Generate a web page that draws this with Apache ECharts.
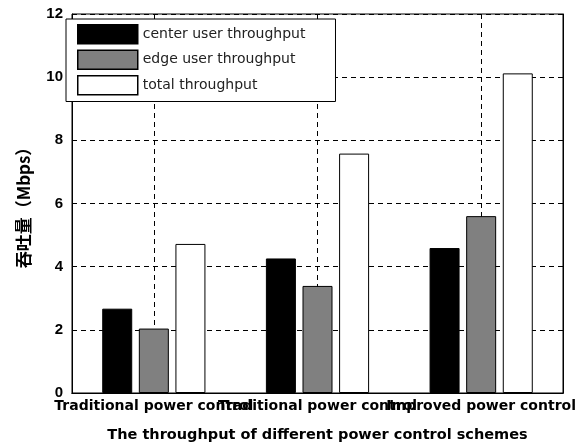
<!DOCTYPE html>
<html>
<head>
<meta charset="utf-8">
<script src="https://cdn.jsdelivr.net/npm/echarts@6/dist/echarts.min.js"></script>
<style>
  html, body { margin: 0; padding: 0; background: #fff; }
  #main { width: 584px; height: 448px; }
</style>
</head>
<body>
<div id="main"></div>
<script>
const categories = ["Traditional power control", "Traditional power control", "Improved power control"]
const seriesNames = ["center user throughput", "edge user throughput", "total throughput"]
const centerValues = [2.67, 4.26, 4.59]
const edgeValues = [2.04, 3.39, 5.6]
const totalValues = [4.72, 7.58, 10.12]
const barColors = ["#000000", "#808080", "#ffffff"]

const chart = echarts.init(document.getElementById("main"))

const dashed = { color: "#000", width: 1, type: [5, 4] }
const makeBar = (name, values, color) => ({
  name: name,
  type: "bar",
  data: values,
  barWidth: 30,
  barGap: "22%",
  itemStyle: { color: color, borderColor: "#000", borderWidth: 1 },
})

const option = {
  backgroundColor: "#fff",
  animation: false,
  grid: {
    left: 72, right: 21, top: 14, bottom: 53,
    show: true, borderColor: "#000", borderWidth: 1,
  },
  legend: {
    orient: "vertical",
    left: 66, top: 19,
    padding: [5, 30, 6, 11],
    icon: "rect",
    itemWidth: 60, itemHeight: 19, itemGap: 5,
    backgroundColor: "#fff",
    borderColor: "#000", borderWidth: 1,
    itemStyle: { borderColor: "#000", borderWidth: 1.5 },
    textStyle: { fontFamily: "DejaVu Sans", fontSize: 14, color: "#222" },
    data: seriesNames,
  },
  xAxis: [
    {
      type: "category",
      data: categories,
      name: "The throughput of different power control schemes",
      nameLocation: "middle",
      nameGap: 35,
      nameTextStyle: { fontFamily: "DejaVu Sans", fontWeight: "bold", fontSize: 14.5, color: "#000" },
      axisLine: { lineStyle: { color: "#000", width: 1 } },
      axisTick: { inside: true, alignWithLabel: true, length: 5, lineStyle: { color: "#000" } },
      axisLabel: { interval: 0, margin: 6, fontFamily: "DejaVu Sans", fontWeight: "bold", fontSize: 14, color: "#000" },
      splitLine: { show: true, interval: 0, alignWithLabel: true, lineStyle: dashed },
    },
    {
      type: "category",
      data: categories,
      position: "top",
      axisLine: { lineStyle: { color: "#000" } },
      axisTick: { inside: true, alignWithLabel: true, length: 5, lineStyle: { color: "#000" } },
      axisLabel: { show: false },
      splitLine: { show: false },
    },
  ],
  yAxis: [
    {
      type: "value",
      min: 0, max: 12, interval: 2,
      name: "吞吐量（Mbps）",
      nameLocation: "middle",
      nameGap: 40,
      nameTextStyle: { fontFamily: "Noto Sans CJK SC", fontWeight: "bold", fontSize: 17, color: "#000" },
      axisLine: { show: true, lineStyle: { color: "#000" } },
      axisTick: { show: true, inside: true, length: 5, lineStyle: { color: "#000" } },
      axisLabel: { margin: 9, fontFamily: "Liberation Sans", fontWeight: "bold", fontSize: 15, color: "#000" },
      splitLine: { show: true, lineStyle: dashed },
    },
    {
      type: "value",
      min: 0, max: 12, interval: 2,
      position: "right",
      axisLine: { show: true, lineStyle: { color: "#000" } },
      axisTick: { show: true, inside: true, length: 5, lineStyle: { color: "#000" } },
      axisLabel: { show: false },
      splitLine: { show: false },
    },
  ],
  series: [
    makeBar(seriesNames[0], centerValues, barColors[0]),
    makeBar(seriesNames[1], edgeValues, barColors[1]),
    makeBar(seriesNames[2], totalValues, barColors[2]),
  ],
}

option && chart.setOption(option)
</script>
</body>
</html>
